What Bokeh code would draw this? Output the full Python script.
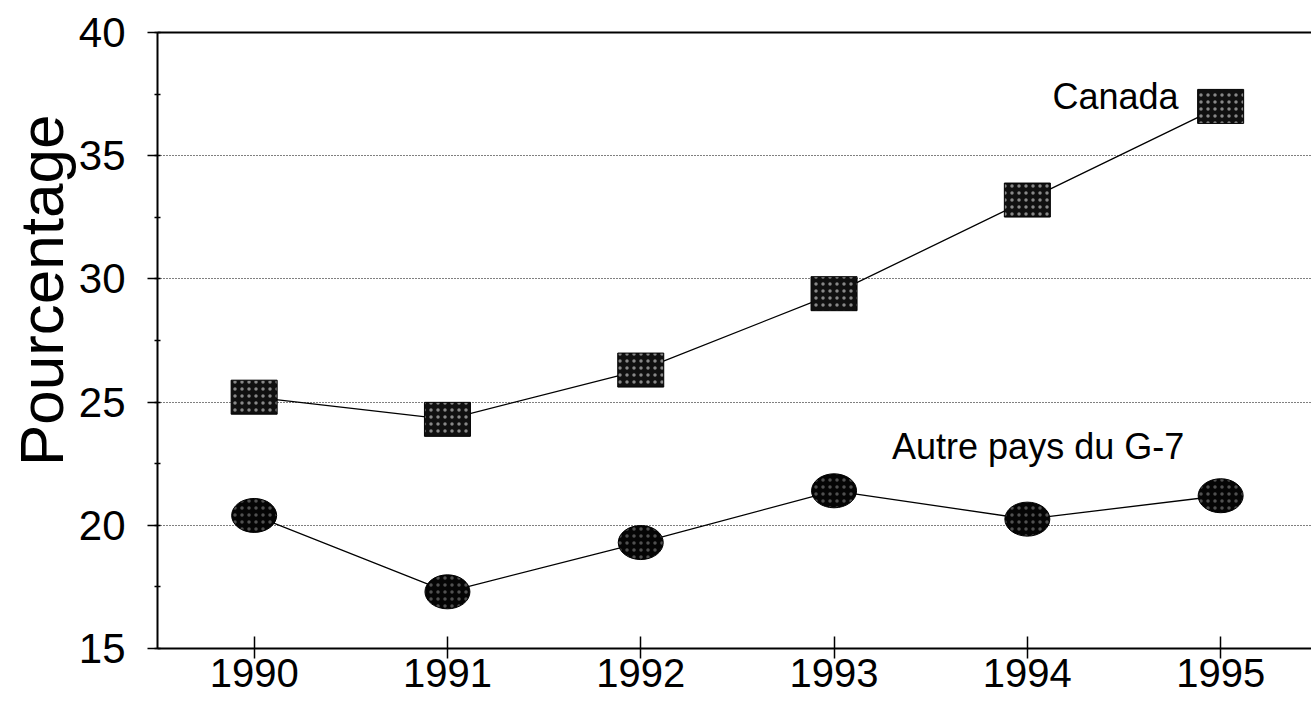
from bokeh.plotting import figure
from bokeh.models import (Range1d, SingleIntervalTicker, FixedTicker, LinearAxis, Label, Title)
from bokeh.embed import file_html
from bokeh.resources import INLINE

years = [1990, 1991, 1992, 1993, 1994, 1995]
canada = [25.2, 24.3, 26.3, 29.4, 33.2, 37.0]
autres_g7 = [20.4, 17.3, 19.3, 21.4, 20.25, 21.2]
series_labels = ["Canada", "Autre pays du G-7"]
y_title = "Pourcentage"

FONT = "Liberation Sans"

p = figure(width=1311, height=704, output_backend="svg", toolbar_location=None,
           x_range=Range1d(1989.5, 1995.47), y_range=Range1d(15, 40),
           min_border_left=157, min_border_right=0, min_border_top=32, min_border_bottom=56)
p.outline_line_color = None
p.background_fill_color = "white"
p.border_fill_color = "white"

# axes
xa = p.xaxis[0]
xa.ticker = FixedTicker(ticks=years)
xa.axis_line_color = "black"
xa.axis_line_width = 2
xa.major_tick_in = 12
xa.major_tick_out = 10
xa.major_tick_line_width = 1.5
xa.minor_tick_line_color = None
xa.major_label_standoff = 0
xa.major_label_text_font = FONT
xa.major_label_text_font_size = "40px"
xa.major_label_text_color = "black"

ya = p.yaxis[0]
ya.ticker = SingleIntervalTicker(interval=5, num_minor_ticks=2)
ya.axis_line_color = "black"
ya.axis_line_width = 2
ya.major_tick_in = 0
ya.major_tick_out = 10
ya.major_tick_line_width = 1.5
ya.minor_tick_in = 3
ya.minor_tick_out = 3
ya.minor_tick_line_width = 1.5
ya.major_label_standoff = 22
ya.major_label_text_font = FONT
ya.major_label_text_font_size = "42px"
ya.major_label_text_color = "black"

top = LinearAxis(ticker=FixedTicker(ticks=[]), axis_line_color="black", axis_line_width=2,
                 major_tick_line_color=None, minor_tick_line_color=None,
                 major_label_standoff=0)
p.add_layout(top, "above")

p.add_layout(Title(text=y_title, align="right", offset=82, text_font=FONT,
                   text_font_size="62px", text_font_style="normal", text_color="black",
                   standoff=0), "left")

p.xgrid.grid_line_color = None
p.ygrid.ticker = SingleIntervalTicker(interval=5)
p.ygrid.grid_line_color = "black"
p.ygrid.grid_line_dash = "1 2"
p.ygrid.grid_line_width = 1

# series
p.line(years, canada, line_color="black", line_width=1.3)
p.line(years, autres_g7, line_color="black", line_width=1.3)

p.rect(years, canada, width=46, height=34, width_units="screen", height_units="screen",
       fill_color="#101010", line_color="black", line_width=1,
       hatch_pattern="dot", hatch_color="white", hatch_scale=7, hatch_weight=1, hatch_alpha=0.5)
p.ellipse(years, autres_g7, width=45, height=34, width_units="screen", height_units="screen",
          fill_color="#050505", line_color="black", line_width=1,
          hatch_pattern="dot", hatch_color="white", hatch_scale=7, hatch_weight=1, hatch_alpha=0.3)

p.add_layout(Label(x=1994.13, y=37.41, text=series_labels[0], text_align="left",
                   text_baseline="alphabetic", text_font=FONT, text_font_size="36px",
                   text_color="black"))
p.add_layout(Label(x=1993.30, y=23.2, text=series_labels[1], text_align="left",
                   text_baseline="alphabetic", text_font=FONT, text_font_size="36px",
                   text_color="black"))

open("out.html", "w").write(file_html(p, INLINE))
